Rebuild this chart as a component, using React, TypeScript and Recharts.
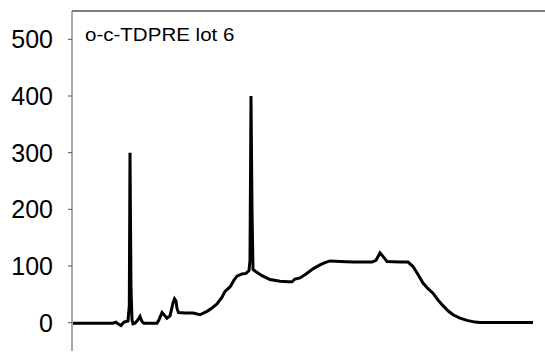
import { LineChart, Line, XAxis, YAxis, ReferenceLine } from "recharts";

// pixel-ish position along the run, and detector response
const positions = [
  1, 28, 41, 44, 46, 49, 52, 56, 57.3, 58, 59, 60, 61,
  63, 66, 68, 70, 72, 85, 87, 90, 92, 95, 98, 101, 102.5, 104, 105, 106.5,
  113, 121, 128, 135, 140, 145, 150, 153, 158, 162, 165, 170, 174, 177,
  178, 179, 180, 181, 184, 190, 198, 208, 216, 220, 223, 228, 234, 241,
  248, 253, 258, 268, 281, 300, 304, 308, 311, 315, 328, 336, 341, 346,
  351, 356, 361, 366, 371, 376, 381, 388, 395, 403, 408, 461,
];
const response = [
  -1, -1, -1, 1, -2, -5, 1, 3, 30, 300, 60, 5, -2,
  -1, 5, 11, 2, -1, -1, 5, 18, 14, 8, 12, 35, 42, 38, 25, 18,
  17, 17, 14, 20, 26, 33, 45, 55, 63, 75, 82, 86, 87, 92,
  110, 400, 200, 94, 90, 83, 76, 73, 72, 72, 77, 79, 86, 95,
  102, 106, 109, 108, 107, 107, 110, 123, 117, 108, 107, 107, 99, 85,
  70, 60, 52, 40, 30, 21, 14, 8, 4, 1, 0.5, 0.5,
];
const yTicks = [0, 100, 200, 300, 400, 500];
const title = "o-c-TDPRE lot 6";

const data = positions.map((t, i) => ({ t, v: response[i] }));

export default function App() {
  return (
    <div style={{ position: "absolute", left: 0, top: 0, width: 545, height: 352, background: "#fff" }}>
      <LineChart width={545} height={352} data={data} margin={{ top: 11, right: 0, bottom: 1, left: 0 }}>
        <XAxis dataKey="t" type="number" domain={[0, 473]} hide />
        <YAxis
          type="number"
          domain={[-50, 550]}
          ticks={yTicks}
          width={72}
          stroke="#555"
          tickSize={4}
          tickMargin={15}
          tick={{ fill: "#000", fontSize: 25, fontFamily: "Liberation Sans, Arial, sans-serif" }}
        />
        <ReferenceLine y={550} stroke="#555" strokeWidth={1.5} />
        <Line
          type="linear"
          dataKey="v"
          stroke="#000"
          strokeWidth={3}
          dot={false}
          isAnimationActive={false}
        />
      </LineChart>
      <div
        style={{
          position: "absolute",
          left: 85,
          top: 25,
          fontFamily: "Liberation Sans, Arial, sans-serif",
          fontSize: 18,
          lineHeight: "20px",
          color: "#000",
          whiteSpace: "nowrap",
          transform: "scaleX(1.14)",
          transformOrigin: "left top",
        }}
      >
        {title}
      </div>
    </div>
  );
}
